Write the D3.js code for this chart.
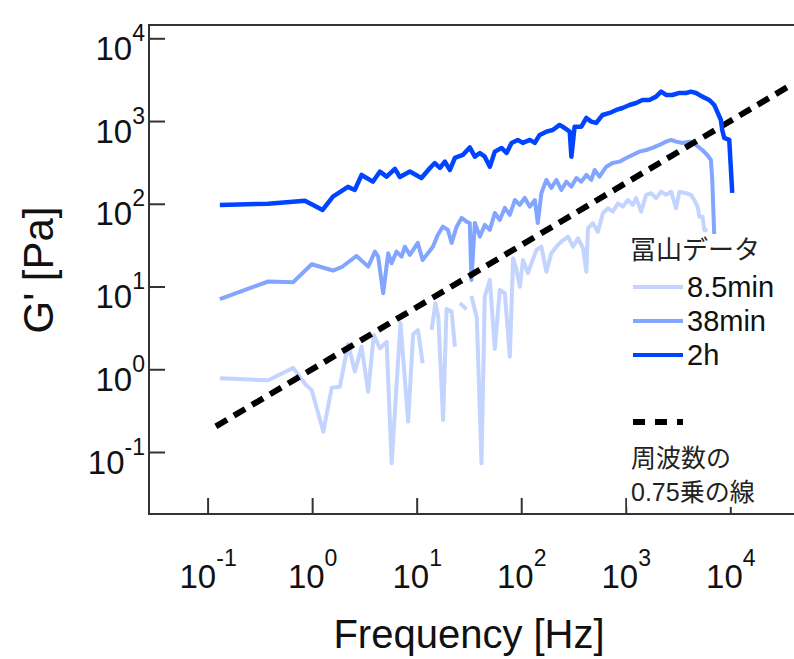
<!DOCTYPE html>
<html>
<head>
<meta charset="utf-8">
<script src="https://cdn.jsdelivr.net/npm/d3@7"></script>
<style>
  body { margin: 0; background: #fff; }
  svg { display: block; font-family: "Liberation Sans", Arial, "Noto Sans CJK JP", sans-serif; }
</style>
</head>
<body>
<svg id="chart" width="794" height="659"></svg>
<script>
// G' readings, 2h
const freq2h = [0.131, 0.38, 0.853, 1.26, 1.58, 2.2, 2.56, 2.97, 3.81, 4.45, 5.16, 6.19, 6.91, 8.61, 11.1, 13.4, 14.9, 16.7, 18.6, 20.8, 23.2, 27.6, 32.2, 36, 40.2, 44.8, 50.1, 55.9, 64.8, 72.4, 80.8, 92.7, 103.5, 121, 135, 150, 174, 200, 233, 260, 291, 302, 324, 376, 420, 468, 522, 600, 700, 811, 931, 1085, 1257, 1443, 1683, 1950, 2178, 2432, 2793, 3258, 3776, 4214, 4700, 5397, 6295, 7022, 7500, 8130, 8370, 8750, 9770, 10440];
const g2h = [96.8, 100, 109, 84.2, 122, 160, 147, 223, 185, 245, 213, 264, 211, 245, 205, 271, 311, 271, 323, 256, 358, 389, 480, 371, 411, 371, 280, 427, 473, 411, 544, 591, 544, 591, 544, 679, 744, 780, 897, 825, 744, 371, 856, 856, 1089, 984, 949, 1184, 1253, 1361, 1438, 1563, 1652, 1798, 1798, 1972, 2265, 2066, 2066, 2185, 2185, 2265, 2185, 1972, 1798, 1563, 1298, 1030, 780, 625, 591, 135];

// 38min
const freq38 = [0.131, 0.38, 0.659, 0.99, 1.58, 1.91, 2.66, 3.44, 3.98, 4.28, 4.78, 5.34, 5.76, 6.42, 7.17, 7.71, 8.61, 10.25, 11.4, 12.8, 14.3, 15.9, 17.8, 19.9, 21.6, 24.1, 26.9, 30, 32.2, 33.4, 36, 40.2, 44.8, 50.1, 55.9, 62.4, 69.7, 77.8, 86.9, 96.9, 108, 121, 135, 144, 156, 174, 194, 217, 242, 270, 302, 337, 376, 420, 468, 504, 561, 651, 748, 871, 1010, 1158, 1351, 1566, 1799, 2098, 2432, 2715, 3030, 3480, 4059, 4700, 5397, 6026, 6530, 6720, 7022];
const g38 = [7.02, 11.5, 11.3, 18.6, 15.6, 17.1, 23.4, 17.4, 26.4, 23.0, 8.29, 25.2, 19.1, 26.4, 23.0, 30.3, 24.1, 33.6, 20.9, 25.3, 30.3, 42.0, 52.9, 48.3, 33.6, 52.9, 67.4, 60.8, 58.6, 12.0, 58.6, 40.1, 55.5, 48.3, 77.4, 63.7, 89.1, 73.3, 111, 96.8, 118, 92.3, 111, 58.6, 135, 194, 155, 194, 147, 185, 161, 205, 185, 223, 194, 256, 213, 281, 311, 323, 358, 389, 427, 447, 473, 514, 564, 591, 564, 544, 564, 514, 447, 389, 338, 194, 42.0];

// 8.5min (null = missing point, line breaks)
const freq85 = [0.131, 0.38, 0.659, 0.873, 0.99, 1.28, 1.54, 1.84, 2.21, 2.56, 2.97, 3.44, 3.89, 4.45, 5.16, 5.76, 7.0, 8.29, 9.25, 10.3, 11.4, 12.6, 13.9, 15.1, 16.1, 17.9, 19.3, 21.6, 23.2, 24.5, 25.9, 30.0, 31.6, 33.4, 37.6, 41.7, 44.8, 50.1, 55.9, 62.4, 69.7, 77.8, 83.7, 90.1, 96.9, 104, 116, 125, 140, 156, 174, 194, 217, 242, 280, 313, 349, 390, 420, 435, 485, 541, 604, 674, 753, 840, 937, 1045, 1166, 1257, 1403, 1566, 1749, 1950, 2178, 2432, 2715, 3030, 3258, 3776, 4214, 4530, 4868, 5054, 5433, 5640, 6067];
const g85 = [0.778, 0.736, 1.04, 0.646, 0.562, 0.176, 0.60, 0.616, 2.02, 0.936, 1.87, 0.536, 2.60, 1.79, 2.14, 0.0731, 3.60, 0.233, 2.67, 2.98, 1.18, null, 2.98, 6.28, 4.32, 0.244, 5.35, 4.97, 1.87, null, 6.28, 5.31, null, 7.7, 4.17, 0.0731, 7.54, 12.0, 1.76, 9.08, 8.29, 1.42, 22.0, 15.9, 9.96, 20.9, 14.5, 19.1, 27.7, 30.3, 15.1, 25.2, 30.3, 34.8, 40.1, 30.3, 38.3, 29.0, 15.1, 50.6, 58.2, 45.6, 76.8, 88.3, 80.4, 101, 92.3, 111, 96.8, 117, 80.4, 128, 134, 117, 140, 128, 140, 88.3, 140, 134, 128, 111, 92.3, 69.9, 69.9, 48.3, 48.3];

// f^0.75 guide line, end points
const guideFreq = [0.12, 40000];
const guideG = [0.204, 2830];

const xTickExps = [-1, 0, 1, 2, 3, 4];
const yTickExps = [-1, 0, 1, 2, 3, 4];
const seriesNames = ["8.5min", "38min", "2h"];
const seriesColors = ["#c3d4ff", "#82a5ff", "#0044ff"];
const legendTitle = "冨山データ";
const guideLabel = ["周波数の", "0.75乗の線"];

const w = 794;
const h = 659;
const padLeft = 149, padTop = 25, padBottom = 514, padRight = 800;

const svg = d3.select("#chart");

const xScale = d3.scaleLog().domain([0.1, 1e4]).range([207.6, 730.3]);
const yScale = d3.scaleLog().domain([0.1, 1e4]).range([452, 38.3]);

const zip = (fs, gs) => fs.map((f, i) => [f, gs[i]]);
const seriesData = [zip(freq85, g85), zip(freq38, g38), zip(freq2h, g2h)];

const line = d3.line()
  .defined((d) => d[1] != null)
  .x((d) => xScale(d[0]))
  .y((d) => yScale(d[1]));

function powerLabel(sel, supShift) {
  sel.each(function(d) {
    const t = d3.select(this);
    t.text(null);
    t.append("tspan").attr("font-size", 33).text("10");
    t.append("tspan").attr("font-size", 23).attr("dy", supShift).text(Math.round(Math.log10(d)));
  });
}

// axes
const xAxis = d3.axisBottom(xScale)
  .tickValues(xTickExps.map((e) => Math.pow(10, e)))
  .tickSize(-16)
  .tickSizeOuter(0)
  .tickFormat(() => "");

const gx = svg.append("g")
  .attr("transform", "translate(0," + padBottom + ")")
  .call(xAxis)
  .attr("font-size", null)
  .attr("font-family", null)
  .style("color", "#333");
gx.select(".domain").remove();
gx.selectAll(".tick line").attr("stroke-width", 2);
gx.selectAll(".tick text")
  .attr("y", 74)
  .attr("dy", null)
  .attr("fill", "#111")
  .call(powerLabel, -22);

const yAxis = d3.axisLeft(yScale)
  .tickValues(yTickExps.map((e) => Math.pow(10, e)))
  .tickSize(-16)
  .tickSizeOuter(0)
  .tickPadding(4)
  .tickFormat(() => "");

const gy = svg.append("g")
  .attr("transform", "translate(" + padLeft + ",0)")
  .call(yAxis)
  .attr("font-size", null)
  .attr("font-family", null)
  .style("color", "#333");
gy.select(".domain").remove();
gy.selectAll(".tick line").attr("stroke-width", 2);
gy.selectAll(".tick text")
  .attr("dy", 21)
  .attr("fill", "#111")
  .call(powerLabel, -19);

// frame
svg.append("path")
  .attr("d", "M" + padRight + "," + padTop + "H" + padLeft + "V" + padBottom + "H" + padRight)
  .attr("fill", "none")
  .attr("stroke", "#333")
  .attr("stroke-width", 2);

// lines
const plot = svg.append("g");

function drawSeries(i) {
  plot.append("path")
    .datum(seriesData[i])
    .attr("d", line)
    .attr("fill", "none")
    .attr("stroke", seriesColors[i])
    .attr("stroke-width", i === 2 ? 4.5 : 4)
    .attr("stroke-linejoin", "round");
}

drawSeries(0);
drawSeries(1);

plot.append("path")
  .datum(zip(guideFreq, guideG))
  .attr("d", line)
  .attr("fill", "none")
  .attr("stroke", "#000")
  .attr("stroke-width", 6)
  .attr("stroke-dasharray", "13,8");

drawSeries(2);

// legend
const legend = svg.append("g").attr("id", "legend");

legend.append("rect")
  .attr("x", 627)
  .attr("y", 234)
  .attr("width", 170)
  .attr("height", 273)
  .attr("fill", "#fff");

legend.append("text")
  .attr("x", 630)
  .attr("y", 259)
  .attr("font-size", 26)
  .attr("fill", "#222")
  .text(legendTitle);

seriesNames.forEach((name, i) => {
  const ly = 287 + i * 34;
  legend.append("line")
    .attr("x1", 633).attr("x2", 683)
    .attr("y1", ly).attr("y2", ly)
    .attr("stroke", seriesColors[i])
    .attr("stroke-width", 4);
  legend.append("text")
    .attr("x", 687)
    .attr("y", ly + 10)
    .attr("font-size", 29)
    .attr("fill", "#111")
    .text(name);
});

legend.append("line")
  .attr("x1", 633).attr("x2", 683)
  .attr("y1", 422).attr("y2", 422)
  .attr("stroke", "#000")
  .attr("stroke-width", 6)
  .attr("stroke-dasharray", "12,10");

guideLabel.forEach((txt, i) => {
  legend.append("text")
    .attr("x", 631)
    .attr("y", 467 + i * 34)
    .attr("font-size", 25)
    .attr("fill", "#222")
    .text(txt);
});

// axis titles
svg.append("text")
  .attr("x", 469)
  .attr("y", 648)
  .attr("text-anchor", "middle")
  .attr("font-size", 40)
  .attr("fill", "#111")
  .text("Frequency [Hz]");

svg.append("text")
  .attr("transform", "translate(53,270) rotate(-90)")
  .attr("text-anchor", "middle")
  .attr("font-size", 42)
  .attr("fill", "#111")
  .text("G' [Pa]");
</script>
</body>
</html>
